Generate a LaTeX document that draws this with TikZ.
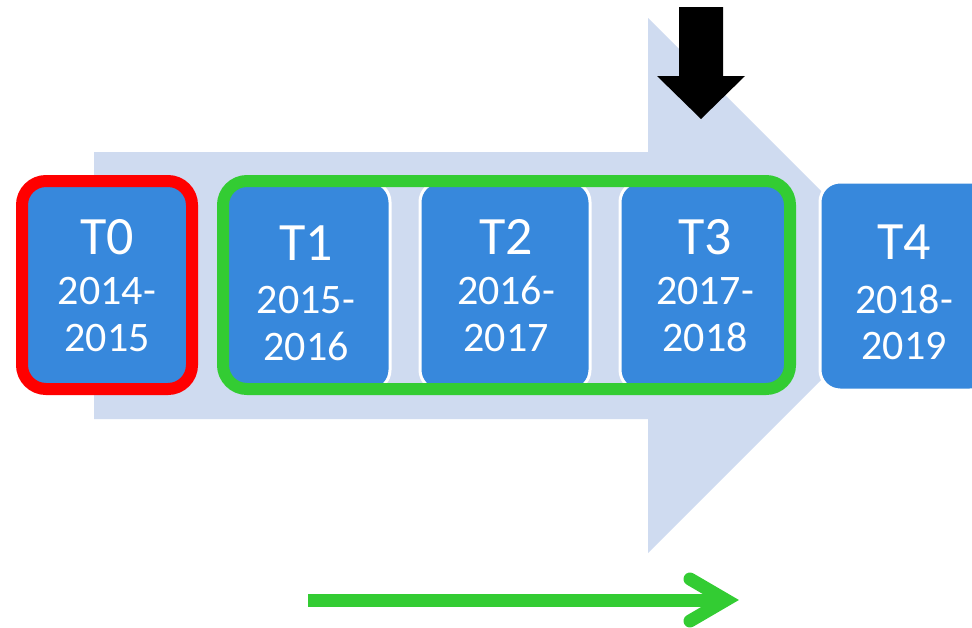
\documentclass[tikz,border=0pt]{standalone}
\usepackage{fontspec}
\setmainfont{Carlito}
\usetikzlibrary{calc}
\definecolor{arrowbg}{RGB}{207,219,240}
\definecolor{boxblue}{RGB}{55,136,220}
\definecolor{mygreen}{RGB}{51,204,51}
\tikzset{
  tbox/.style={rectangle, rounded corners=20pt, fill=boxblue, draw=white, line width=3pt,
    minimum width=170pt, minimum height=208pt, inner sep=0pt},
  tlab/.style={anchor=base, text=white, inner sep=0pt, font=\fontsize{54}{54}\selectfont},
  ylab/.style={anchor=base, text=white, inner sep=0pt, font=\fontsize{42}{42}\selectfont},
  redframe/.style={rectangle, rounded corners=24pt, draw=red, line width=12pt, inner sep=0pt},
  greenframe/.style={rectangle, rounded corners=24pt, draw=mygreen, line width=12pt, inner sep=0pt},
}
\begin{document}
\begin{tikzpicture}[x=1pt, y=-1pt]
\clip (0,0) rectangle (972,627);
\fill[white] (0,0) rectangle (972,627);
% big light-blue arrow
\fill[arrowbg] (94,152) -- (648,152) -- (648,18) -- (915.5,285.5) -- (648,553) -- (648,419) -- (94,419) -- cycle;
% black arrow
\fill[black] (679,7) -- (723,7) -- (723,76) -- (745,76) -- (701,119) -- (657,76) -- (679,76) -- cycle;
% boxes
\node[tbox] (b0) at (105,286) {};
\node[tbox] (b1) at (305,286) {};
\node[tbox] (b2) at (505,286) {};
\node[tbox] (b3) at (705,286) {};
\node[tbox] (b4) at (905,286) {};
% labels
\node[tlab] (l0a) at (107,254) {T0};
\node[ylab] (l0b) at (107,304) {2014-};
\node[ylab] (l0c) at (107,351) {2015};
\node[tlab] (l1a) at (306,260) {T1};
\node[ylab] (l1b) at (306,313) {2015-};
\node[ylab] (l1c) at (306,360) {2016};
\node[tlab] (l2a) at (506,254) {T2};
\node[ylab] (l2b) at (506,304) {2016-};
\node[ylab] (l2c) at (506,351) {2017};
\node[tlab] (l3a) at (705,254) {T3};
\node[ylab] (l3b) at (705,304) {2017-};
\node[ylab] (l3c) at (705,351) {2018};
\node[tlab] (l4a) at (904,259) {T4};
\node[ylab] (l4b) at (904,313) {2018-};
\node[ylab] (l4c) at (904,359) {2019};
% frames
\node[redframe, minimum width=170pt, minimum height=208pt] (red) at (107,285) {};
\node[greenframe, minimum width=567pt, minimum height=208pt] (grn) at (506.5,285) {};
% green arrow
\coordinate (gs) at (308,600);
\coordinate (gm) at (726,600);
\coordinate (gu) at (690,579);
\coordinate (gd) at (690,621);
\draw[mygreen, line width=13pt] (gs) -- (gm);
\draw[mygreen, line width=13pt, line cap=round, line join=miter] (gu) -- (gm) -- (gd);
\end{tikzpicture}
\end{document}
